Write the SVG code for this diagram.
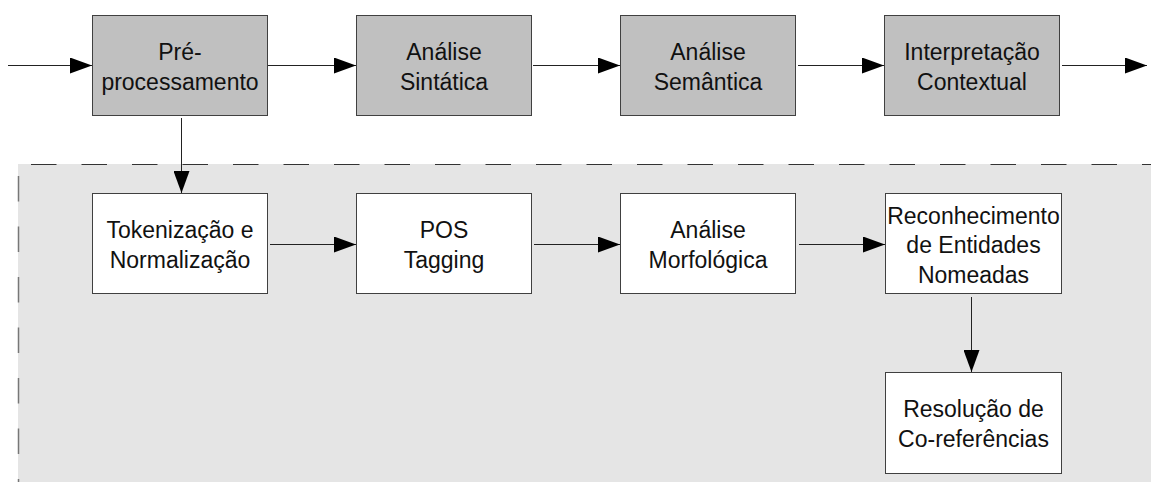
<svg xmlns="http://www.w3.org/2000/svg" width="1151" height="482" viewBox="0 0 1151 482">
  <style>
    .stage { fill: #c0c0c0; stroke: #404040; stroke-width: 1; }
    .step { fill: #ffffff; stroke: #404040; stroke-width: 1; }
    .lbl { font-family: "Liberation Sans", Arial, sans-serif; font-size: 23px; fill: #111111; text-anchor: middle; }
    .flow { stroke: #222222; stroke-width: 1; fill: none; marker-end: url(#head); }
  </style>
  <defs>
    <marker id="head" markerUnits="userSpaceOnUse" markerWidth="22" markerHeight="16" refX="22" refY="8" orient="auto">
      <path d="M0,0 L22,8 L0,16 Z" fill="#000000"/>
    </marker>
  </defs>

  <rect width="1151" height="482" fill="#ffffff"/>

  <!-- detail area of the pre-processing stage -->
  <g id="detail-area">
    <rect x="18" y="164" width="1133" height="318" fill="#e5e5e5"/>
    <line x1="31" y1="164.5" x2="1151" y2="164.5" stroke="#333333" stroke-width="1" stroke-dasharray="25.5 25"/>
    <line x1="18.5" y1="176" x2="18.5" y2="482" stroke="#777777" stroke-width="1.5" stroke-dasharray="25.5 25"/>
  </g>

  <g id="connectors">
    <line class="flow" x1="8" y1="65.5" x2="92" y2="65.5"/>
    <line class="flow" x1="268" y1="65.5" x2="356" y2="65.5"/>
    <line class="flow" x1="533" y1="65.5" x2="620" y2="65.5"/>
    <line class="flow" x1="798" y1="65.5" x2="884" y2="65.5"/>
    <line class="flow" x1="1062" y1="65.5" x2="1147" y2="65.5"/>
    <line class="flow" x1="181.5" y1="118" x2="181.5" y2="193"/>
    <line class="flow" x1="270" y1="244.5" x2="356" y2="244.5"/>
    <line class="flow" x1="534" y1="244.5" x2="620" y2="244.5"/>
    <line class="flow" x1="799" y1="244.5" x2="885" y2="244.5"/>
    <line class="flow" x1="971.5" y1="297" x2="971.5" y2="372"/>
  </g>

  <g id="pre-processamento">
    <rect class="stage" x="92.5" y="15.5" width="175" height="100"/>
    <text class="lbl" x="180" y="59.5">Pré-</text>
    <text class="lbl" x="180" y="89.5">processamento</text>
  </g>
  <g id="analise-sintatica">
    <rect class="stage" x="356.5" y="15.5" width="175" height="100"/>
    <text class="lbl" x="444" y="59.5">Análise</text>
    <text class="lbl" x="444" y="89.5">Sintática</text>
  </g>
  <g id="analise-semantica">
    <rect class="stage" x="620.5" y="15.5" width="175" height="100"/>
    <text class="lbl" x="708" y="59.5">Análise</text>
    <text class="lbl" x="708" y="89.5">Semântica</text>
  </g>
  <g id="interpretacao-contextual">
    <rect class="stage" x="884.5" y="15.5" width="175" height="100"/>
    <text class="lbl" x="972" y="59.5">Interpretação</text>
    <text class="lbl" x="972" y="89.5">Contextual</text>
  </g>

  <g id="tokenizacao">
    <rect class="step" x="92.5" y="193.5" width="175" height="100"/>
    <text class="lbl" x="180" y="238">Tokenização e</text>
    <text class="lbl" x="180" y="268">Normalização</text>
  </g>
  <g id="pos-tagging">
    <rect class="step" x="356.5" y="193.5" width="175" height="100"/>
    <text class="lbl" x="444" y="238">POS</text>
    <text class="lbl" x="444" y="268">Tagging</text>
  </g>
  <g id="analise-morfologica">
    <rect class="step" x="620.5" y="193.5" width="175" height="100"/>
    <text class="lbl" x="708" y="238">Análise</text>
    <text class="lbl" x="708" y="268">Morfológica</text>
  </g>
  <g id="reconhecimento-entidades">
    <rect class="step" x="885.5" y="193.5" width="176" height="100"/>
    <text class="lbl" x="973.5" y="224">Reconhecimento</text>
    <text class="lbl" x="973.5" y="253.3">de Entidades</text>
    <text class="lbl" x="973.5" y="282.6">Nomeadas</text>
  </g>
  <g id="resolucao-correferencias">
    <rect class="step" x="885.5" y="372.5" width="176" height="101"/>
    <text class="lbl" x="973.5" y="417">Resolução de</text>
    <text class="lbl" x="973.5" y="447">Co-referências</text>
  </g>
</svg>
